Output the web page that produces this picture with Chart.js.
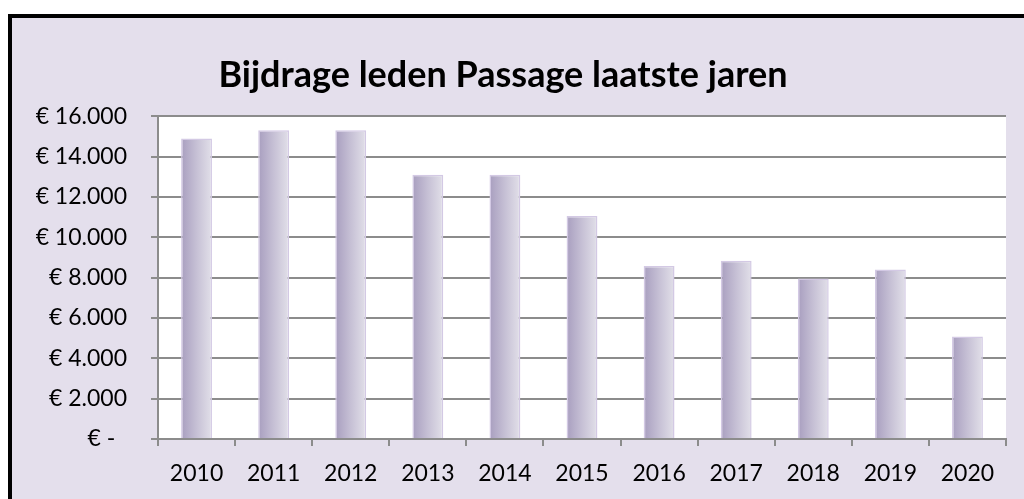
<!DOCTYPE html>
<html lang="nl">
<head>
  <meta charset="UTF-8">
  <title>Bijdrage leden Passage laatste jaren</title>
  <script src="https://cdn.jsdelivr.net/npm/chart.js"></script>
  <style>
    body {
      margin: 0;
      background: #fff;
      overflow: hidden;
    }
    .frame {
      position: absolute;
      left: 8px;
      top: 14px;
      width: 1040px;
      height: 520px;
      border: 4px solid #000;
      background: #e4dfec;
    }
    #chart {
      position: absolute;
      left: 0;
      top: 0;
    }
  </style>
</head>
<body>
  <div class="frame"></div>
  <canvas id="chart" width="1024" height="499"></canvas>

  <script>
    const jaren = ["2010", "2011", "2012", "2013", "2014", "2015", "2016", "2017", "2018", "2019", "2020"];
    const bijdrage = [14900, 15300, 15300, 13100, 13100, 11050, 8580, 8830, 7950, 8400, 5080];
    const yTicks = [0, 2000, 4000, 6000, 8000, 10000, 12000, 14000, 16000];

    const FONT = "Lato, 'Open Sans', sans-serif";
    const BAR_PCT = 0.4;

    function euro(v) {
      if (v === 0) return "€ -\u00a0\u00a0";
      return "€ " + (v / 1000) + ".000";
    }

    // witte plotachtergrond
    const plotBg = {
      id: "plotBg",
      beforeDraw(chart) {
        const a = chart.chartArea;
        const c = chart.ctx;
        c.save();
        c.fillStyle = "#ffffff";
        c.fillRect(a.left, a.top, a.right - a.left, a.bottom - a.top);
        c.restore();
      }
    };

    function barGradient(context) {
      const chart = context.chart;
      const xs = chart.scales.x;
      if (!xs || !chart.chartArea || context.dataIndex === undefined) return "#c8c2d6";
      const cx = xs.getPixelForValue(context.dataIndex);
      const half = (xs.width / jaren.length) * BAR_PCT / 2;
      const g = chart.ctx.createLinearGradient(cx - half, 0, cx + half, 0);
      g.addColorStop(0, "#a89ebf");
      g.addColorStop(0.5, "#c6c0d5");
      g.addColorStop(1, "#e2e0e9");
      return g;
    }

    new Chart(document.getElementById("chart"), {
      type: "bar",
      data: {
        labels: jaren,
        datasets: [{
          label: "Bijdrage",
          data: bijdrage,
          backgroundColor: barGradient,
          borderColor: "#d3c9e4",
          borderWidth: 1.5,
          barPercentage: BAR_PCT,
          categoryPercentage: 1
        }]
      },
      options: {
        responsive: false,
        animation: false,
        layout: { padding: { left: 0, right: 18, top: 0, bottom: 0 } },
        plugins: {
          legend: { display: false },
          tooltip: { enabled: false },
          title: {
            display: true,
            text: "Bijdrage leden Passage laatste jaren",
            color: "#000",
            font: { family: FONT, size: 36, weight: "bold" },
            padding: { top: 54, bottom: 19 }
          }
        },
        scales: {
          x: {
            afterFit(s) { s.height = 60; },
            grid: {
              drawOnChartArea: false,
              drawTicks: true,
              tickLength: 7,
              color: "#8c8c8c",
              lineWidth: 2
            },
            border: { display: true, color: "#8c8c8c", width: 2 },
            ticks: {
              color: "#000",
              font: { family: FONT, size: 23 },
              padding: 14
            }
          },
          y: {
            min: 0,
            max: 16000,
            afterFit(s) { s.width = 158; },
            afterBuildTicks(s) { s.ticks = yTicks.map(v => ({ value: v })); },
            grid: {
              color: "#8c8c8c",
              lineWidth: 2,
              tickLength: 7
            },
            border: { display: true, color: "#8c8c8c", width: 2 },
            ticks: {
              color: "#000",
              font: { family: FONT, size: 23 },
              padding: 24,
              callback: v => euro(v)
            }
          }
        }
      },
      plugins: [plotBg]
    });
  </script>
</body>
</html>
